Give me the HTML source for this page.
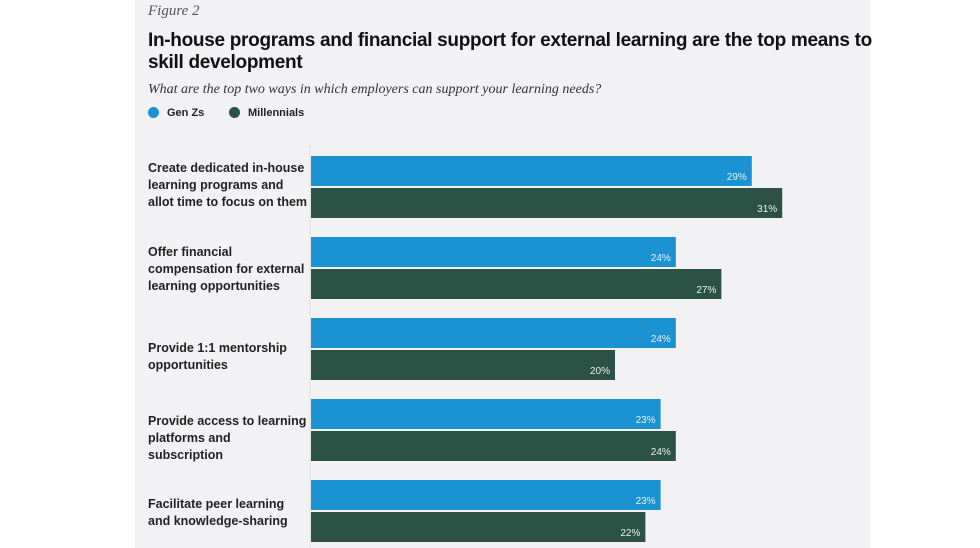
<!DOCTYPE html>
<html><head><meta charset="utf-8"><style>
body{margin:0;width:980px;height:548px;background:#fff;overflow:hidden;font-family:"Liberation Sans",sans-serif}
#panel{position:absolute;left:135px;top:0;width:735px;height:548px;background:#f2f2f4}
.abs{position:absolute;white-space:nowrap}
.fig{left:148px;top:3px;font-family:"Liberation Serif",serif;font-style:italic;font-size:15px;color:#555}
.title{left:148px;top:30px;font-family:"Liberation Sans Narrow","Liberation Sans",sans-serif;font-weight:bold;font-size:19px;line-height:22px;color:#111;letter-spacing:-0.3px}
.sub{left:148px;top:82px;font-family:"Liberation Serif",serif;font-style:italic;font-size:14px;color:#333}
.leg{top:107px;font-family:"Liberation Sans Narrow","Liberation Sans",sans-serif;font-weight:bold;font-size:11px;color:#222}
.dot{display:inline-block;width:11px;height:11px;border-radius:50%;vertical-align:-2px;margin-right:8px}
.cat{font-family:"Liberation Sans Narrow","Liberation Sans",sans-serif;font-weight:bold;font-size:12.5px;line-height:17px;color:#222;white-space:normal;width:160px}
</style></head><body>
<div id="panel"></div>
<div class="abs fig">Figure 2</div>
<div class="abs title">In-house programs and financial support for external learning are the top means to<br>skill development</div>
<div class="abs sub">What are the top two ways in which employers can support your learning needs?</div>
<div class="abs leg" style="left:148px"><span class="dot" style="background:#1b93d3"></span>Gen Zs</div>
<div class="abs leg" style="left:229px"><span class="dot" style="background:#2b5244"></span>Millennials</div>
<svg id="chart" width="980" height="548" style="position:absolute;left:0;top:0"></svg>
<div id="cats"></div>
<script>
const categories=["Create dedicated in-house learning programs and allot time to focus on them","Offer financial compensation for external learning opportunities","Provide 1:1 mentorship opportunities","Provide access to learning platforms and subscription","Facilitate peer learning and knowledge-sharing"];
const genZ=[29,24,24,23,23];
const millennials=[31,27,20,24,22];
const catTops=[160,244,340,413,496];
const NS="http://www.w3.org/2000/svg";
const svg=document.getElementById('chart');
const x0=311,pxPer=15.2;
const xs=v=>x0+v*pxPer;
const groupY=i=>156+i*81;
const barH=30;
const ax=document.createElementNS(NS,'line');


ax.setAttribute('x1',310);ax.setAttribute('x2',310);ax.setAttribute('y1',145);ax.setAttribute('y2',548);
ax.setAttribute('stroke','#ddd');svg.appendChild(ax);
function bar(v,y,color,name){
  const r=document.createElementNS(NS,'rect');
  
  
  r.setAttribute('x',x0);r.setAttribute('y',y);r.setAttribute('width',xs(v)-x0);r.setAttribute('height',barH);r.setAttribute('fill',color);
  svg.appendChild(r);
  const t=document.createElementNS(NS,'text');
  
  
  t.setAttribute('x',xs(v)-5);t.setAttribute('y',y+24);t.setAttribute('text-anchor','end');
  t.setAttribute('font-family','Liberation Sans Narrow, Liberation Sans, sans-serif');t.setAttribute('font-size','10');t.setAttribute('fill','#e8f0f0');
  t.textContent=v+'%';svg.appendChild(t);
}
categories.forEach((c,i)=>{
  const y=groupY(i);
  bar(genZ[i],y,'#1b93d3','bar-genz-'+i);
  bar(millennials[i],y+32,'#2b5244','bar-millennials-'+i);
  const d=document.createElement('div');
  
  
  d.className='abs cat';d.style.left='148px';d.style.top=catTops[i]+'px';
  d.textContent=c;document.getElementById('cats').appendChild(d);
});
</script>
</body></html>
